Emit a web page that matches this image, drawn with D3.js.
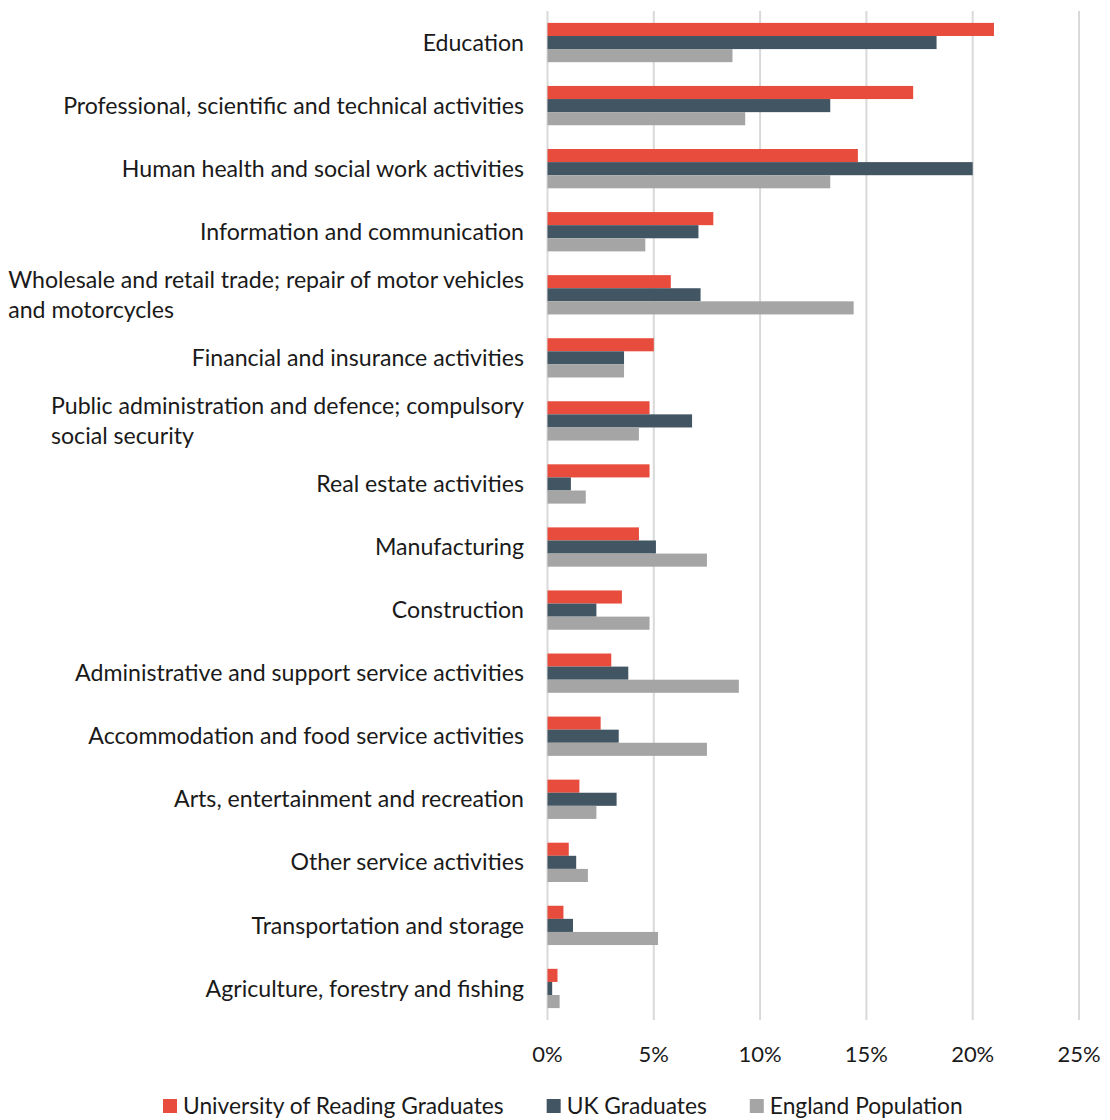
<!DOCTYPE html>
<html><head><meta charset="utf-8">
<script src="https://cdn.jsdelivr.net/npm/d3@7"></script>
<style>body{margin:0;background:#fff} text{font-family:Lato, "Noto Sans", sans-serif; fill:#1a1a1a}</style>
</head><body><svg id="c" width="1110" height="1120"></svg>
<script>
const categories = [
  "Education",
  "Professional, scientific and technical activities",
  "Human health and social work activities",
  "Information and communication",
  "Wholesale and retail trade; repair of motor vehicles and motorcycles",
  "Financial and insurance activities",
  "Public administration and defence; compulsory social security",
  "Real estate activities",
  "Manufacturing",
  "Construction",
  "Administrative and support service activities",
  "Accommodation and food service activities",
  "Arts, entertainment and recreation",
  "Other service activities",
  "Transportation and storage",
  "Agriculture, forestry and fishing"
];
const seriesNames = ["University of Reading Graduates", "UK Graduates", "England Population"];
const readingGrads = [21.0, 17.2, 14.6, 7.8, 5.8, 5.0, 4.8, 4.8, 4.3, 3.5, 3.0, 2.5, 1.5, 1.0, 0.75, 0.47];
const ukGrads      = [18.3, 13.3, 20.0, 7.1, 7.2, 3.6, 6.8, 1.1, 5.1, 2.3, 3.8, 3.35, 3.25, 1.35, 1.2, 0.22];
const englandPop   = [8.7, 9.3, 13.3, 4.6, 14.4, 3.6, 4.3, 1.8, 7.5, 4.8, 9.0, 7.5, 2.3, 1.9, 5.2, 0.57];
const xTicks = [0, 5, 10, 15, 20, 25];
const colors = ["#E84C3D", "#425563", "#A5A5A5"];

const valuesBySeries = [readingGrads, ukGrads, englandPop];
const svg = d3.select("#c");

const x = d3.scaleLinear().domain([0, 25]).range([547.5, 1079]);
const pad = 0.377;
const y = d3.scaleBand().domain(categories).range([11, 1020]).paddingInner(pad).paddingOuter(pad / 2);
const ys = d3.scaleBand().domain(seriesNames).range([0, y.bandwidth()]);

// gridlines
svg.append("g").selectAll("line").data(xTicks).join("line")
  .attr("x1", d => x(d)).attr("x2", d => x(d))
  .attr("y1", 11).attr("y2", 1020)
  .attr("stroke", "#d9d9d9").attr("stroke-width", 2);

// bars
const groups = svg.append("g").selectAll("g").data(categories).join("g")
  .attr("transform", d => `translate(0,${y(d)})`);
groups.selectAll("rect").data((c, i) => seriesNames.map((s, k) => ({s, k, v: valuesBySeries[k][i]})))
  .join("rect")
  .attr("x", x(0))
  .attr("y", d => ys(d.s))
  .attr("width", d => x(d.v) - x(0))
  .attr("height", ys.bandwidth())
  .attr("fill", d => colors[d.k]);

// font fitting to reference text widths
const probe = svg.append("text").attr("font-size", 20);
probe.text("Professional, scientific and technical activities");
const k = 461 / probe.node().getComputedTextLength();
probe.remove();
const labelFont = 20 * k;

// category labels with wrapping
const labG = svg.append("g").attr("font-size", labelFont);
const maxW = 520;
const measure = labG.append("text");
function tw(s) { measure.text(s); return measure.node().getComputedTextLength(); }
categories.forEach(c => {
  const words = c.split(" ");
  const lines = [];
  let cur = "";
  words.forEach(w => {
    const t = cur ? cur + " " + w : w;
    if (tw(t) > maxW && cur) { lines.push(cur); cur = w; } else cur = t;
  });
  lines.push(cur);
  const widths = lines.map(tw);
  const blockW = d3.max(widths);
  const cy = y(c) + y.bandwidth() / 2;
  const lh = 29.5;
  const t = labG.append("text")
    .attr("text-anchor", lines.length > 1 ? "start" : "end");
  lines.forEach((ln, i) => {
    t.append("tspan")
      .attr("x", lines.length > 1 ? 524 - blockW : 524)
      .attr("y", cy + (i - (lines.length - 1) / 2) * lh)
      .attr("dy", "0.35em")
      .text(ln);
  });
});
measure.remove();

// x tick labels
svg.append("g").attr("font-size", labelFont * 0.95).selectAll("text").data(xTicks).join("text")
  .attr("x", d => x(d)).attr("y", 1054).attr("dy", "0.35em")
  .attr("text-anchor", "middle")
  .text(d => d + "%");

// legend
const leg = svg.append("g").attr("font-size", labelFont * 0.985);
let lx = 163;
seriesNames.forEach((s, j) => {
  leg.append("rect").attr("x", lx).attr("y", 1099).attr("width", 14).attr("height", 14).attr("fill", colors[j]);
  const t = leg.append("text").attr("x", lx + 20).attr("y", 1106).attr("dy", "0.35em").text(s);
  lx += 20 + t.node().getComputedTextLength() + 43;
});
</script></body></html>
